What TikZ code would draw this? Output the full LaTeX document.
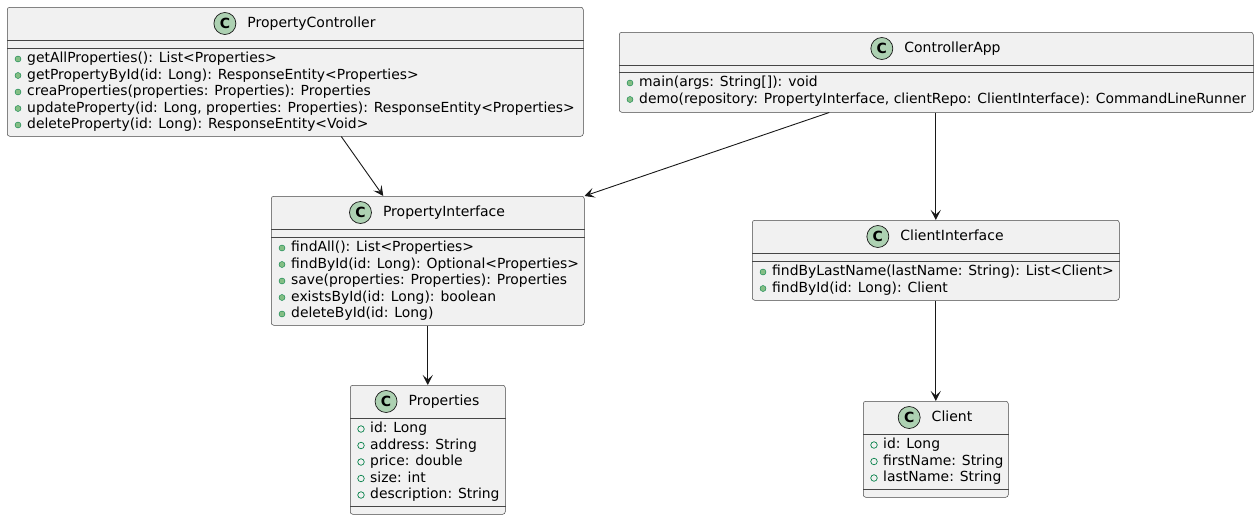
\documentclass[tikz,border=0pt]{standalone}
\usepackage{fontspec}
\setmainfont{DejaVu Sans}
\usepackage{tikz}
\usetikzlibrary{arrows.meta}
\usetikzlibrary{positioning}
\usepackage{xcolor}
\definecolor{boxfill}{HTML}{F1F1F1}
\definecolor{boxline}{HTML}{181818}
\definecolor{spotfill}{HTML}{ADD1B2}
\definecolor{visfill}{HTML}{84BE84}
\definecolor{visline}{HTML}{038048}

\tikzset{
  classbox/.style={draw=boxline!80, fill=boxfill, line width=.5pt, rounded corners=2.5pt, anchor=north west, inner sep=0pt},
  divider/.style={draw=boxline!80, line width=.5pt},
  spot/.style={circle, draw=boxline, fill=spotfill, line width=.7pt, minimum size=22pt, inner sep=0pt, font=\fontsize{14}{14}\selectfont\bfseries},
  title/.style={inner sep=0pt, font=\fontsize{14}{16}\selectfont, text height=10pt, text depth=3pt},
  member/.style={anchor=west, inner sep=0pt, font=\fontsize{13.9}{16}\selectfont, text height=10pt, text depth=3pt},
  methdot/.style={circle, fill=visfill, draw=visline, line width=.4pt, minimum size=6pt, inner sep=0pt},
  fielddot/.style={circle, draw=visline, line width=.7pt, minimum size=6.5pt, inner sep=0pt},
  assoc/.style={draw=boxline, line width=.9pt, -{Stealth[length=10pt, width=10pt, inset=4.5pt]}}
}

\begin{document}
\begin{tikzpicture}[x=1pt, y=-1pt]
		\useasboundingbox (0,0) rectangle (1259,520);
		% class boxes
		\node[classbox, minimum width=576pt, minimum height=129pt] (pc) at (7,7) {};
		\node[classbox, minimum width=634pt, minimum height=80pt] (ca) at (619,32) {};
		\node[classbox, minimum width=313pt, minimum height=129pt] (pi) at (271,196) {};
		\node[classbox, minimum width=155pt, minimum height=129pt] (p) at (350,385) {};
		\node[classbox, minimum width=367pt, minimum height=80pt] (ci) at (752,220) {};
		\node[classbox, minimum width=145pt, minimum height=96pt] (c) at (863,401) {};
		% compartments
		\draw[divider] ([yshift=-33pt]pc.north west) -- ([yshift=-33pt]pc.north east);
		\draw[divider] ([yshift=-41pt]pc.north west) -- ([yshift=-41pt]pc.north east);
		\draw[divider] ([yshift=-33pt]ca.north west) -- ([yshift=-33pt]ca.north east);
		\draw[divider] ([yshift=-40pt]ca.north west) -- ([yshift=-40pt]ca.north east);
		\draw[divider] ([yshift=-33pt]pi.north west) -- ([yshift=-33pt]pi.north east);
		\draw[divider] ([yshift=-41pt]pi.north west) -- ([yshift=-41pt]pi.north east);
		\draw[divider] ([yshift=-33pt]p.north west) -- ([yshift=-33pt]p.north east);
		\draw[divider] ([yshift=8pt]p.south west) -- ([yshift=8pt]p.south east);
		\draw[divider] ([yshift=-33pt]ci.north west) -- ([yshift=-33pt]ci.north east);
		\draw[divider] ([yshift=-41pt]ci.north west) -- ([yshift=-41pt]ci.north east);
		\draw[divider] ([yshift=-33pt]c.north west) -- ([yshift=-33pt]c.north east);
		\draw[divider] ([yshift=8pt]c.south west) -- ([yshift=8pt]c.south east);
		% titles
		\node[title] (pct) at (311.5,23.5) {PropertyController};
		\node[spot, left=11pt of pct] (pcs) {C};
		\node[title] (cat) at (952.5,48.5) {ControllerApp};
		\node[spot, left=11pt of cat] (cas) {C};
		\node[title] (pit) at (444,212.5) {PropertyInterface};
		\node[spot, left=11pt of pit] (pis) {C};
		\node[title] (pt) at (444,401.5) {Properties};
		\node[spot, left=11pt of pt] (ps) {C};
		\node[title] (cit) at (952,236.5) {ClientInterface};
		\node[spot, left=11pt of cit] (cis) {C};
		\node[title] (ct) at (952,417.5) {Client};
		\node[spot, left=11pt of ct] (cs) {C};
		% PropertyController methods
		\node[methdot] (pcd1) at (18,59) {};
		\node[member] (pc1) at (27,59) {getAllProperties(): List<Properties>};
		\node[methdot] (pcd2) at (18,75.5) {};
		\node[member] (pc2) at (27,75.5) {getPropertyById(id: Long): ResponseEntity<Properties>};
		\node[methdot] (pcd3) at (18,92) {};
		\node[member] (pc3) at (27,92) {creaProperties(properties: Properties): Properties};
		\node[methdot] (pcd4) at (18,108.5) {};
		\node[member] (pc4) at (27,108.5) {updateProperty(id: Long, properties: Properties): ResponseEntity<Properties>};
		\node[methdot] (pcd5) at (18,125) {};
		\node[member] (pc5) at (27,125) {deleteProperty(id: Long): ResponseEntity<Void>};
		% ControllerApp methods
		\node[methdot] (cad1) at (630,83) {};
		\node[member] (ca1) at (639,83) {main(args: String[]): void};
		\node[methdot] (cad2) at (630,99.5) {};
		\node[member] (ca2) at (639,99.5) {demo(repository: PropertyInterface, clientRepo: ClientInterface): CommandLineRunner};
		% PropertyInterface methods
		\node[methdot] (pid1) at (282,248) {};
		\node[member] (pi1) at (291,248) {findAll(): List<Properties>};
		\node[methdot] (pid2) at (282,264.5) {};
		\node[member] (pi2) at (291,264.5) {findById(id: Long): Optional<Properties>};
		\node[methdot] (pid3) at (282,281) {};
		\node[member] (pi3) at (291,281) {save(properties: Properties): Properties};
		\node[methdot] (pid4) at (282,297.5) {};
		\node[member] (pi4) at (291,297.5) {existsById(id: Long): boolean};
		\node[methdot] (pid5) at (282,314) {};
		\node[member] (pi5) at (291,314) {deleteById(id: Long)};
		% Properties fields
		\node[fielddot] (pd1) at (361,429) {};
		\node[member] (p1) at (370,429) {id: Long};
		\node[fielddot] (pd2) at (361,445.5) {};
		\node[member] (p2) at (370,445.5) {address: String};
		\node[fielddot] (pd3) at (361,462) {};
		\node[member] (p3) at (370,462) {price: double};
		\node[fielddot] (pd4) at (361,478.5) {};
		\node[member] (p4) at (370,478.5) {size: int};
		\node[fielddot] (pd5) at (361,495) {};
		\node[member] (p5) at (370,495) {description: String};
		% ClientInterface methods
		\node[methdot] (cid1) at (763,272) {};
		\node[member] (ci1) at (772,272) {findByLastName(lastName: String): List<Client>};
		\node[methdot] (cid2) at (763,288.5) {};
		\node[member] (ci2) at (772,288.5) {findById(id: Long): Client};
		% Client fields
		\node[fielddot] (cd1) at (874,445) {};
		\node[member] (c1) at (883,445) {id: Long};
		\node[fielddot] (cd2) at (874,461.5) {};
		\node[member] (c2) at (883,461.5) {firstName: String};
		\node[fielddot] (cd3) at (874,478) {};
		\node[member] (c3) at (883,478) {lastName: String};
		% associations
		\draw[assoc] ([xshift=46pt]pc.south) -- ([xshift=-44.5pt]pi.north);
		\draw[assoc] ([xshift=-107pt]ca.south) -- (pi.north east);
		\draw[assoc] (ci.north |- ca.south) -- (ci.north);
		\draw[assoc] (pi.south) -- (p.north);
		\draw[assoc] (ci.south) -- (c.north);
\end{tikzpicture}
\end{document}
